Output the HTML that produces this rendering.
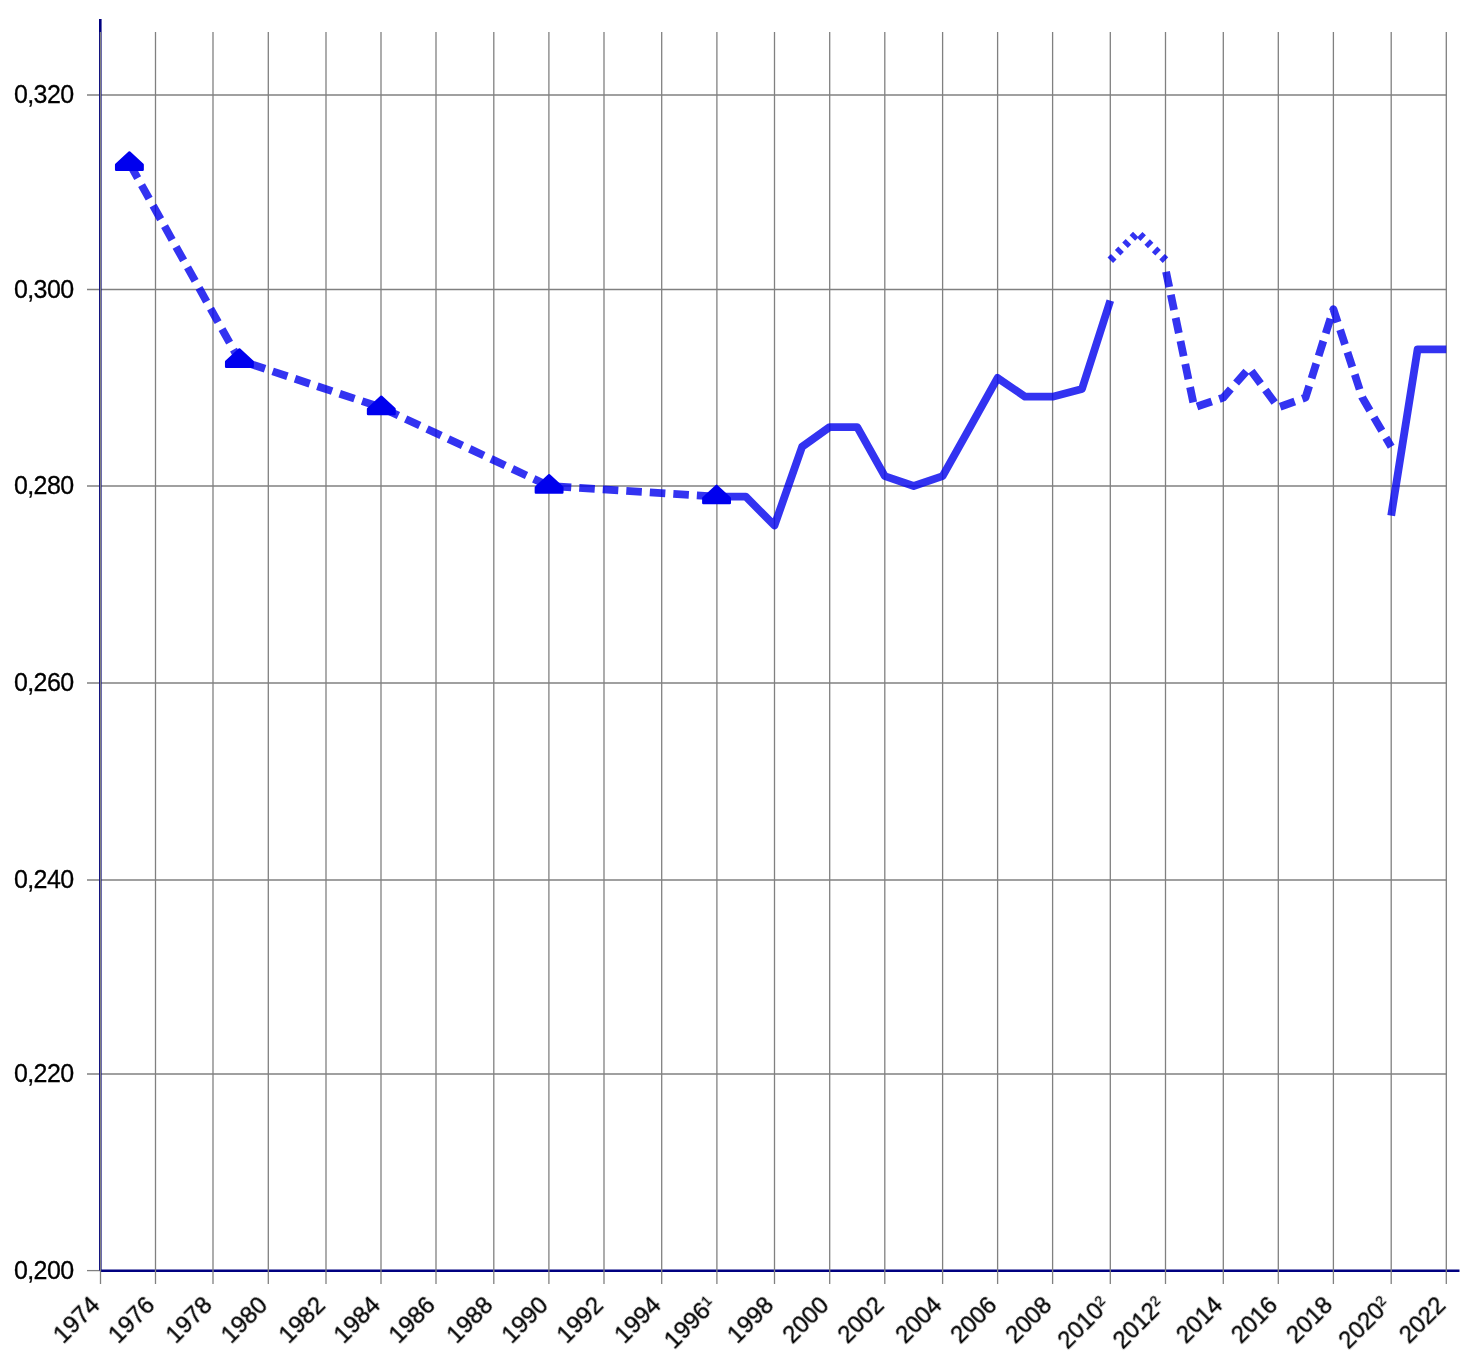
<!DOCTYPE html>
<html><head><meta charset="utf-8"><style>
html,body{margin:0;padding:0;background:#fff;width:1474px;height:1362px;overflow:hidden;}
svg{display:block;} text{will-change:transform;}
</style></head><body>
<svg width="1474" height="1362" viewBox="0 0 1474 1362">
<rect width="1474" height="1362" fill="#fff"/>
<line x1="87" y1="1270.6" x2="100" y2="1270.6" stroke="#808080" stroke-width="1.3"/>
<line x1="87" y1="1074.0" x2="1446.5" y2="1074.0" stroke="#808080" stroke-width="1.3"/>
<line x1="87" y1="880.0" x2="1446.5" y2="880.0" stroke="#808080" stroke-width="1.3"/>
<line x1="87" y1="683.0" x2="1446.5" y2="683.0" stroke="#808080" stroke-width="1.3"/>
<line x1="87" y1="486.0" x2="1446.5" y2="486.0" stroke="#808080" stroke-width="1.3"/>
<line x1="87" y1="289.5" x2="1446.5" y2="289.5" stroke="#808080" stroke-width="1.3"/>
<line x1="87" y1="95.0" x2="1446.5" y2="95.0" stroke="#808080" stroke-width="1.3"/>
<line x1="100.3" y1="19" x2="100.3" y2="1270.6" stroke="#000080" stroke-width="2.6"/>
<line x1="100.5" y1="1270.75" x2="1459.5" y2="1270.75" stroke="#000080" stroke-width="2.6"/>
<line x1="100.5" y1="32" x2="100.5" y2="1284" stroke="#808080" stroke-width="1.3"/>
<line x1="155.5" y1="32" x2="155.5" y2="1284" stroke="#808080" stroke-width="1.3"/>
<line x1="213.0" y1="32" x2="213.0" y2="1284" stroke="#808080" stroke-width="1.3"/>
<line x1="268.3" y1="32" x2="268.3" y2="1284" stroke="#808080" stroke-width="1.3"/>
<line x1="326.0" y1="32" x2="326.0" y2="1284" stroke="#808080" stroke-width="1.3"/>
<line x1="381.0" y1="32" x2="381.0" y2="1284" stroke="#808080" stroke-width="1.3"/>
<line x1="436.0" y1="32" x2="436.0" y2="1284" stroke="#808080" stroke-width="1.3"/>
<line x1="493.8" y1="32" x2="493.8" y2="1284" stroke="#808080" stroke-width="1.3"/>
<line x1="548.9" y1="32" x2="548.9" y2="1284" stroke="#808080" stroke-width="1.3"/>
<line x1="604.0" y1="32" x2="604.0" y2="1284" stroke="#808080" stroke-width="1.3"/>
<line x1="661.7" y1="32" x2="661.7" y2="1284" stroke="#808080" stroke-width="1.3"/>
<line x1="716.9" y1="32" x2="716.9" y2="1284" stroke="#808080" stroke-width="1.3"/>
<line x1="774.5" y1="32" x2="774.5" y2="1284" stroke="#808080" stroke-width="1.3"/>
<line x1="829.7" y1="32" x2="829.7" y2="1284" stroke="#808080" stroke-width="1.3"/>
<line x1="884.8" y1="32" x2="884.8" y2="1284" stroke="#808080" stroke-width="1.3"/>
<line x1="942.6" y1="32" x2="942.6" y2="1284" stroke="#808080" stroke-width="1.3"/>
<line x1="997.6" y1="32" x2="997.6" y2="1284" stroke="#808080" stroke-width="1.3"/>
<line x1="1052.6" y1="32" x2="1052.6" y2="1284" stroke="#808080" stroke-width="1.3"/>
<line x1="1110.3" y1="32" x2="1110.3" y2="1284" stroke="#808080" stroke-width="1.3"/>
<line x1="1165.5" y1="32" x2="1165.5" y2="1284" stroke="#808080" stroke-width="1.3"/>
<line x1="1223.3" y1="32" x2="1223.3" y2="1284" stroke="#808080" stroke-width="1.3"/>
<line x1="1278.3" y1="32" x2="1278.3" y2="1284" stroke="#808080" stroke-width="1.3"/>
<line x1="1333.4" y1="32" x2="1333.4" y2="1284" stroke="#808080" stroke-width="1.3"/>
<line x1="1391.2" y1="32" x2="1391.2" y2="1284" stroke="#808080" stroke-width="1.3"/>
<line x1="1446.3" y1="32" x2="1446.3" y2="1284" stroke="#808080" stroke-width="1.3"/>
<path d="M129.40,163.25 L239.40,360.25 L381.30,407.55 L549.10,486.05 L716.55,496.65" fill="none" stroke="rgba(0,0,238,0.8)" stroke-width="7.8" stroke-linejoin="round" stroke-linecap="butt" stroke-dasharray="15.57 8.0" stroke-dashoffset="-1.4"/>
<path d="M716.90,496.60 L745.70,496.60 L774.50,525.40 L802.10,446.70 L829.70,427.05 L857.25,427.05 L884.80,476.17 L913.70,486.00 L942.60,476.17 L970.10,427.05 L997.60,377.93 L1025.10,396.70 L1052.60,396.70 L1082.00,388.90 L1110.30,300.60" fill="none" stroke="rgba(0,0,238,0.8)" stroke-width="7.8" stroke-linejoin="round" stroke-linecap="butt"/>
<path d="M1110.30,260.20 L1137.60,232.60 L1165.50,260.10" fill="none" stroke="rgba(0,0,238,0.8)" stroke-width="7.8" stroke-linejoin="round" stroke-linecap="butt" stroke-dasharray="4.9 5.55" stroke-dashoffset="0"/>
<path d="M1165.50,269.08 L1194.30,407.40 L1223.30,397.58 L1249.20,368.10 L1278.30,407.40 L1305.50,397.58 L1333.40,309.15 L1362.30,397.58 L1391.20,446.70" fill="none" stroke="rgba(0,0,238,0.8)" stroke-width="7.8" stroke-linejoin="round" stroke-linecap="butt" stroke-dasharray="15.57 8.0" stroke-dashoffset="-2.7"/>
<path d="M1391.20,515.55 L1417.60,349.43 L1446.30,349.43" fill="none" stroke="rgba(0,0,238,0.8)" stroke-width="7.8" stroke-linejoin="round" stroke-linecap="butt"/>
<polygon points="129.40,152.40 142.65,164.70 142.65,169.70 116.15,169.70 116.15,164.70" fill="#0000ee" stroke="#0000ee" stroke-width="2.4" stroke-linejoin="round"/>
<polygon points="239.40,349.40 252.65,361.70 252.65,366.70 226.15,366.70 226.15,361.70" fill="#0000ee" stroke="#0000ee" stroke-width="2.4" stroke-linejoin="round"/>
<polygon points="381.30,396.70 394.55,409.00 394.55,414.00 368.05,414.00 368.05,409.00" fill="#0000ee" stroke="#0000ee" stroke-width="2.4" stroke-linejoin="round"/>
<polygon points="549.10,475.20 562.35,487.50 562.35,492.50 535.85,492.50 535.85,487.50" fill="#0000ee" stroke="#0000ee" stroke-width="2.4" stroke-linejoin="round"/>
<polygon points="716.55,485.80 729.80,498.10 729.80,503.10 703.30,503.10 703.30,498.10" fill="#0000ee" stroke="#0000ee" stroke-width="2.4" stroke-linejoin="round"/>
<text x="73.5" y="1278.6" text-anchor="end" font-family="&quot;Liberation Sans&quot;, sans-serif" font-size="25" letter-spacing="-0.6" fill="#000" stroke="#000" stroke-width="0.3">0,200</text>
<text x="73.5" y="1082.0" text-anchor="end" font-family="&quot;Liberation Sans&quot;, sans-serif" font-size="25" letter-spacing="-0.6" fill="#000" stroke="#000" stroke-width="0.3">0,220</text>
<text x="73.5" y="888.0" text-anchor="end" font-family="&quot;Liberation Sans&quot;, sans-serif" font-size="25" letter-spacing="-0.6" fill="#000" stroke="#000" stroke-width="0.3">0,240</text>
<text x="73.5" y="691.0" text-anchor="end" font-family="&quot;Liberation Sans&quot;, sans-serif" font-size="25" letter-spacing="-0.6" fill="#000" stroke="#000" stroke-width="0.3">0,260</text>
<text x="73.5" y="494.0" text-anchor="end" font-family="&quot;Liberation Sans&quot;, sans-serif" font-size="25" letter-spacing="-0.6" fill="#000" stroke="#000" stroke-width="0.3">0,280</text>
<text x="73.5" y="297.5" text-anchor="end" font-family="&quot;Liberation Sans&quot;, sans-serif" font-size="25" letter-spacing="-0.6" fill="#000" stroke="#000" stroke-width="0.3">0,300</text>
<text x="73.5" y="103.0" text-anchor="end" font-family="&quot;Liberation Sans&quot;, sans-serif" font-size="25" letter-spacing="-0.6" fill="#000" stroke="#000" stroke-width="0.3">0,320</text>
<text transform="translate(89.0,1294.6) rotate(-45)" x="0" y="0" dy="0.72em" text-anchor="end" font-family="&quot;Liberation Sans&quot;, sans-serif" font-size="24" fill="#000" stroke="#000" stroke-width="0.3">1974</text>
<text transform="translate(144.0,1294.6) rotate(-45)" x="0" y="0" dy="0.72em" text-anchor="end" font-family="&quot;Liberation Sans&quot;, sans-serif" font-size="24" fill="#000" stroke="#000" stroke-width="0.3">1976</text>
<text transform="translate(201.5,1294.6) rotate(-45)" x="0" y="0" dy="0.72em" text-anchor="end" font-family="&quot;Liberation Sans&quot;, sans-serif" font-size="24" fill="#000" stroke="#000" stroke-width="0.3">1978</text>
<text transform="translate(256.8,1294.6) rotate(-45)" x="0" y="0" dy="0.72em" text-anchor="end" font-family="&quot;Liberation Sans&quot;, sans-serif" font-size="24" fill="#000" stroke="#000" stroke-width="0.3">1980</text>
<text transform="translate(314.5,1294.6) rotate(-45)" x="0" y="0" dy="0.72em" text-anchor="end" font-family="&quot;Liberation Sans&quot;, sans-serif" font-size="24" fill="#000" stroke="#000" stroke-width="0.3">1982</text>
<text transform="translate(369.5,1294.6) rotate(-45)" x="0" y="0" dy="0.72em" text-anchor="end" font-family="&quot;Liberation Sans&quot;, sans-serif" font-size="24" fill="#000" stroke="#000" stroke-width="0.3">1984</text>
<text transform="translate(424.5,1294.6) rotate(-45)" x="0" y="0" dy="0.72em" text-anchor="end" font-family="&quot;Liberation Sans&quot;, sans-serif" font-size="24" fill="#000" stroke="#000" stroke-width="0.3">1986</text>
<text transform="translate(482.3,1294.6) rotate(-45)" x="0" y="0" dy="0.72em" text-anchor="end" font-family="&quot;Liberation Sans&quot;, sans-serif" font-size="24" fill="#000" stroke="#000" stroke-width="0.3">1988</text>
<text transform="translate(537.4,1294.6) rotate(-45)" x="0" y="0" dy="0.72em" text-anchor="end" font-family="&quot;Liberation Sans&quot;, sans-serif" font-size="24" fill="#000" stroke="#000" stroke-width="0.3">1990</text>
<text transform="translate(592.5,1294.6) rotate(-45)" x="0" y="0" dy="0.72em" text-anchor="end" font-family="&quot;Liberation Sans&quot;, sans-serif" font-size="24" fill="#000" stroke="#000" stroke-width="0.3">1992</text>
<text transform="translate(650.2,1294.6) rotate(-45)" x="0" y="0" dy="0.72em" text-anchor="end" font-family="&quot;Liberation Sans&quot;, sans-serif" font-size="24" fill="#000" stroke="#000" stroke-width="0.3">1994</text>
<text transform="translate(705.4,1294.6) rotate(-45)" x="0" y="0" dy="0.72em" text-anchor="end" font-family="&quot;Liberation Sans&quot;, sans-serif" font-size="24" fill="#000" stroke="#000" stroke-width="0.3">1996<tspan font-size="14" dy="-7.4">1</tspan></text>
<text transform="translate(763.0,1294.6) rotate(-45)" x="0" y="0" dy="0.72em" text-anchor="end" font-family="&quot;Liberation Sans&quot;, sans-serif" font-size="24" fill="#000" stroke="#000" stroke-width="0.3">1998</text>
<text transform="translate(818.2,1294.6) rotate(-45)" x="0" y="0" dy="0.72em" text-anchor="end" font-family="&quot;Liberation Sans&quot;, sans-serif" font-size="24" fill="#000" stroke="#000" stroke-width="0.3">2000</text>
<text transform="translate(873.3,1294.6) rotate(-45)" x="0" y="0" dy="0.72em" text-anchor="end" font-family="&quot;Liberation Sans&quot;, sans-serif" font-size="24" fill="#000" stroke="#000" stroke-width="0.3">2002</text>
<text transform="translate(931.1,1294.6) rotate(-45)" x="0" y="0" dy="0.72em" text-anchor="end" font-family="&quot;Liberation Sans&quot;, sans-serif" font-size="24" fill="#000" stroke="#000" stroke-width="0.3">2004</text>
<text transform="translate(986.1,1294.6) rotate(-45)" x="0" y="0" dy="0.72em" text-anchor="end" font-family="&quot;Liberation Sans&quot;, sans-serif" font-size="24" fill="#000" stroke="#000" stroke-width="0.3">2006</text>
<text transform="translate(1041.1,1294.6) rotate(-45)" x="0" y="0" dy="0.72em" text-anchor="end" font-family="&quot;Liberation Sans&quot;, sans-serif" font-size="24" fill="#000" stroke="#000" stroke-width="0.3">2008</text>
<text transform="translate(1098.8,1294.6) rotate(-45)" x="0" y="0" dy="0.72em" text-anchor="end" font-family="&quot;Liberation Sans&quot;, sans-serif" font-size="24" fill="#000" stroke="#000" stroke-width="0.3">2010<tspan font-size="14" dy="-7.4">2</tspan></text>
<text transform="translate(1154.0,1294.6) rotate(-45)" x="0" y="0" dy="0.72em" text-anchor="end" font-family="&quot;Liberation Sans&quot;, sans-serif" font-size="24" fill="#000" stroke="#000" stroke-width="0.3">2012<tspan font-size="14" dy="-7.4">2</tspan></text>
<text transform="translate(1211.8,1294.6) rotate(-45)" x="0" y="0" dy="0.72em" text-anchor="end" font-family="&quot;Liberation Sans&quot;, sans-serif" font-size="24" fill="#000" stroke="#000" stroke-width="0.3">2014</text>
<text transform="translate(1266.8,1294.6) rotate(-45)" x="0" y="0" dy="0.72em" text-anchor="end" font-family="&quot;Liberation Sans&quot;, sans-serif" font-size="24" fill="#000" stroke="#000" stroke-width="0.3">2016</text>
<text transform="translate(1321.9,1294.6) rotate(-45)" x="0" y="0" dy="0.72em" text-anchor="end" font-family="&quot;Liberation Sans&quot;, sans-serif" font-size="24" fill="#000" stroke="#000" stroke-width="0.3">2018</text>
<text transform="translate(1379.7,1294.6) rotate(-45)" x="0" y="0" dy="0.72em" text-anchor="end" font-family="&quot;Liberation Sans&quot;, sans-serif" font-size="24" fill="#000" stroke="#000" stroke-width="0.3">2020<tspan font-size="14" dy="-7.4">2</tspan></text>
<text transform="translate(1434.8,1294.6) rotate(-45)" x="0" y="0" dy="0.72em" text-anchor="end" font-family="&quot;Liberation Sans&quot;, sans-serif" font-size="24" fill="#000" stroke="#000" stroke-width="0.3">2022</text>
</svg>
</body></html>
